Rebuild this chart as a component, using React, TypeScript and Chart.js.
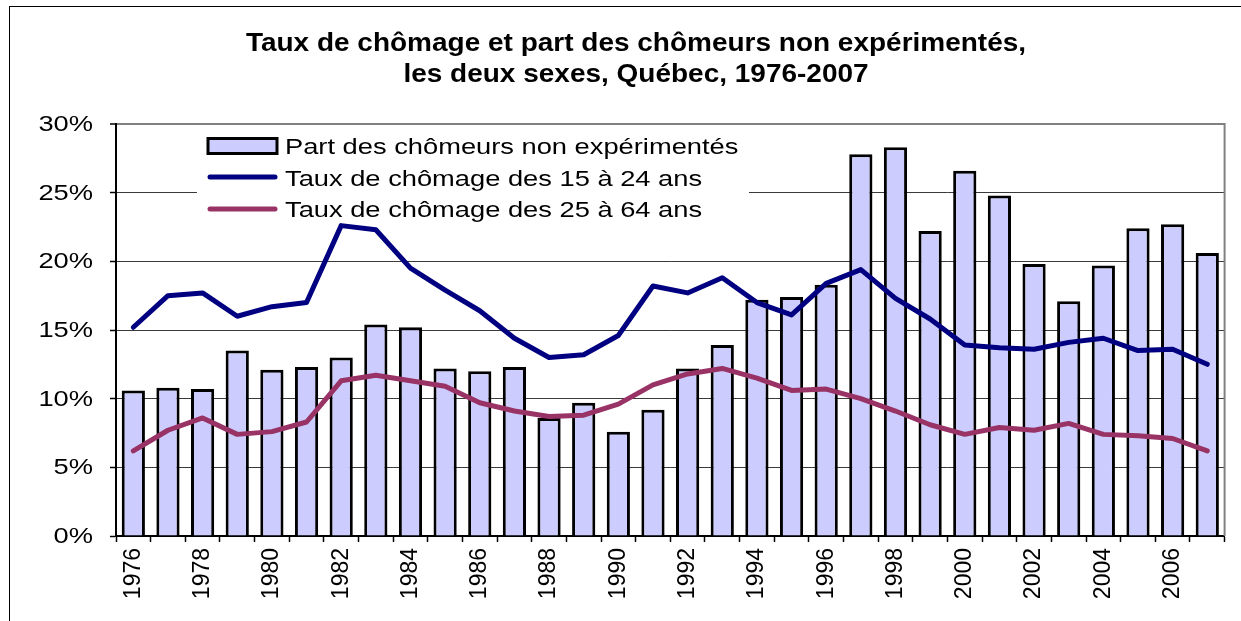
import React, { useEffect, useRef } from 'react';
import { Chart, registerables } from 'chart.js';

Chart.register(...registerables);

const years = [
  '1976', '1977', '1978', '1979', '1980', '1981', '1982', '1983', '1984', '1985', '1986',
  '1987', '1988', '1989', '1990', '1991', '1992', '1993', '1994', '1995', '1996', '1997',
  '1998', '1999', '2000', '2001', '2002', '2003', '2004', '2005', '2006', '2007',
];

const partNonExperimentes = [
  10.6, 10.8, 10.7, 13.5, 12.1, 12.3, 13.0, 15.4, 15.2, 12.2, 12.0, 12.3, 8.6, 9.7, 7.6, 9.2,
  12.2, 13.9, 17.2, 17.4, 18.3, 27.8, 28.3, 22.2, 26.6, 24.8, 19.8, 17.1, 19.7, 22.4, 22.7, 20.6,
];

const taux15a24 = [
  15.2, 17.5, 17.7, 16.0, 16.7, 17.0, 22.6, 22.3, 19.5, 17.9, 16.4, 14.4, 13.0, 13.2, 14.6, 18.2,
  17.7, 18.8, 17.0, 16.1, 18.4, 19.4, 17.3, 15.8, 13.9, 13.7, 13.6, 14.1, 14.4, 13.5, 13.6, 12.5,
];

const taux25a64 = [
  6.2, 7.7, 8.6, 7.4, 7.6, 8.3, 11.3, 11.7, 11.3, 10.9, 9.7, 9.1, 8.7, 8.8, 9.6, 11.0,
  11.8, 12.2, 11.5, 10.6, 10.7, 10.0, 9.1, 8.1, 7.4, 7.9, 7.7, 8.2, 7.4, 7.3, 7.1, 6.2,
];

const yTickValues = [0, 5, 10, 15, 20, 25, 30];

const titleLines = [
  'Taux de chômage et part des chômeurs non expérimentés,',
  'les deux sexes, Québec, 1976-2007',
];

const seriesLabels = [
  'Part des chômeurs non expérimentés',
  'Taux de chômage des 15 à 24 ans',
  'Taux de chômage des 25 à 64 ans',
];

const BAR_FILL = '#CCCCFF';
const BLUE = '#000080';
const PLUM = '#993366';
const FONT = "'Liberation Sans', Arial, sans-serif";
const STRETCH = 1.24;

const decorPlugin = {
  id: 'decor',
  beforeDatasetsDraw(chart: any) {
    const ctx = chart.ctx;
    ctx.save();
    // legend box (white, covers gridlines)
    ctx.fillStyle = '#fff';
    ctx.fillRect(197, 128, 552, 92);
    const swX = 208;
    const swW = 69;
    const rows = [146, 177, 209];
    // bar swatch
    ctx.fillStyle = BAR_FILL;
    ctx.fillRect(swX, rows[0] - 7.5, swW, 15);
    ctx.strokeStyle = '#000';
    ctx.lineWidth = 3;
    ctx.strokeRect(swX, rows[0] - 7.5, swW, 15);
    // line swatches
    ctx.lineCap = 'round';
    ctx.lineWidth = 5;
    ctx.strokeStyle = BLUE;
    ctx.beginPath();
    ctx.moveTo(swX + 2, rows[1]);
    ctx.lineTo(swX + swW - 2, rows[1]);
    ctx.stroke();
    ctx.strokeStyle = PLUM;
    ctx.beginPath();
    ctx.moveTo(swX + 2, rows[2]);
    ctx.lineTo(swX + swW - 2, rows[2]);
    ctx.stroke();
    // texts
    ctx.fillStyle = '#000';
    ctx.font = `22px ${FONT}`;
    ctx.textAlign = 'left';
    ctx.textBaseline = 'alphabetic';
    const baselines = [154, 186, 217];
    seriesLabels.forEach((t, i) => {
      ctx.save();
      ctx.translate(285, baselines[i]);
      ctx.scale(STRETCH, 1);
      ctx.fillText(t, 0, 0);
      ctx.restore();
    });
    ctx.restore();
  },
  afterDraw(chart: any) {
    const ctx = chart.ctx;
    const area = chart.chartArea;
    ctx.save();
    // outer frame
    ctx.strokeStyle = '#000';
    ctx.lineWidth = 1;
    ctx.strokeRect(9.5, 6.5, 2000, 2000);
    // right border of plot area
    ctx.strokeStyle = '#808080';
    ctx.lineWidth = 2;
    ctx.beginPath();
    ctx.moveTo(area.right, area.top - 1);
    ctx.lineTo(area.right, area.bottom);
    ctx.stroke();
    // title
    ctx.fillStyle = '#000';
    ctx.font = `bold 26.5px ${FONT}`;
    ctx.textAlign = 'center';
    ctx.textBaseline = 'alphabetic';
    const tb = [51, 82];
    titleLines.forEach((t, i) => {
      ctx.save();
      ctx.translate(636, tb[i]);
      ctx.scale(1.056, 1);
      ctx.fillText(t, 0, 0);
      ctx.restore();
    });
    // y tick labels
    const y = chart.scales.y;
    ctx.font = `22px ${FONT}`;
    ctx.textAlign = 'right';
    ctx.textBaseline = 'middle';
    yTickValues.forEach((v) => {
      const py = y.getPixelForValue(v);
      ctx.save();
      ctx.translate(area.left - 23, py + 1);
      ctx.scale(STRETCH, 1);
      ctx.fillText(`${v}%`, 0, 0);
      ctx.restore();
    });
    ctx.restore();
  },
};

export default function App() {
  const ref = useRef<HTMLCanvasElement | null>(null);

  useEffect(() => {
    if (!ref.current) return;
    const chart = new Chart(ref.current, {
      type: 'bar',
      data: {
        labels: years,
        datasets: [
          {
            type: 'line',
            label: seriesLabels[1],
            data: taux15a24,
            borderColor: BLUE,
            borderWidth: 5,
            pointRadius: 0,
            tension: 0,
            borderCapStyle: 'round',
            borderJoinStyle: 'round',
            order: 0,
          },
          {
            type: 'line',
            label: seriesLabels[2],
            data: taux25a64,
            borderColor: PLUM,
            borderWidth: 5,
            pointRadius: 0,
            tension: 0,
            borderCapStyle: 'round',
            borderJoinStyle: 'round',
            order: 1,
          },
          {
            type: 'bar',
            label: seriesLabels[0],
            data: partNonExperimentes,
            backgroundColor: BAR_FILL,
            borderColor: '#000',
            borderWidth: 3,
            barPercentage: 0.67,
            categoryPercentage: 1,
            order: 2,
          },
        ],
      } as any,
      options: {
        responsive: false,
        animation: false,
        devicePixelRatio: 1,
        layout: { padding: { top: 124, right: 8, bottom: 0, left: 0 } },
        plugins: {
          legend: { display: false },
          title: { display: false },
          tooltip: { enabled: false },
        },
        scales: {
          x: {
            type: 'category',
            offset: true,
            grid: {
              offset: true,
              drawOnChartArea: false,
              drawTicks: true,
              tickLength: 6,
              tickColor: '#000',
              tickWidth: 1.5,
            },
            border: { color: '#000', width: 2 },
            ticks: {
              autoSkip: false,
              minRotation: 90,
              maxRotation: 90,
              padding: 6,
              color: '#000',
              font: { family: FONT, size: 23 },
              callback: (_v: any, i: number) => (i % 2 === 0 ? years[i] : ''),
            },
            afterFit: (s: any) => {
              s.height = 85;
            },
          },
          y: {
            min: 0,
            max: 30,
            ticks: { stepSize: 5, display: false },
            grid: {
              color: (c: any) => (c.tick && c.tick.value === 30 ? '#808080' : '#3a3a3a'),
              lineWidth: (c: any) => (c.tick && c.tick.value === 30 ? 2 : 1),
              drawTicks: true,
              tickLength: 6,
              tickColor: '#000',
              tickWidth: 1.5,
            },
            border: { color: '#000', width: 2 },
            afterFit: (s: any) => {
              s.width = 116;
            },
          },
        },
      } as any,
      plugins: [decorPlugin],
    });
    return () => chart.destroy();
  }, []);

  return (
    <div style={{ position: 'absolute', left: 0, top: 0, width: 1241, height: 621, background: '#fff', overflow: 'hidden' }}>
      <canvas ref={ref} width={1241} height={621} style={{ width: 1241, height: 621, display: 'block' }} />
    </div>
  );
}
